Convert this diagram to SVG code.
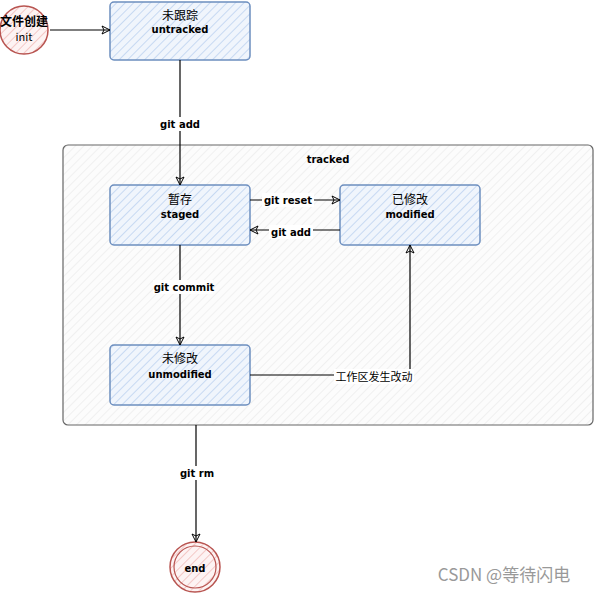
<svg xmlns="http://www.w3.org/2000/svg" width="594" height="593" viewBox="0 0 594 593">
<defs>
<pattern id="hb" width="6" height="6" patternUnits="userSpaceOnUse" patternTransform="rotate(45)">
<rect width="6" height="6" fill="#f0f5fc"/>
<line x1="0" y1="0" x2="0" y2="6" stroke="#c3d6f1" stroke-width="1.8"/>
</pattern>
<pattern id="hr" width="6" height="6" patternUnits="userSpaceOnUse" patternTransform="rotate(45)">
<rect width="6" height="6" fill="#fdf3f3"/>
<line x1="0" y1="0" x2="0" y2="6" stroke="#f2c3c1" stroke-width="1.8"/>
</pattern>
<pattern id="hg" width="6" height="6" patternUnits="userSpaceOnUse" patternTransform="rotate(45)">
<rect width="6" height="6" fill="#fcfcfc"/>
<line x1="0" y1="0" x2="0" y2="6" stroke="#ececec" stroke-width="1.4"/>
</pattern>
<marker id="ar" markerWidth="10" markerHeight="10" refX="9" refY="5" orient="auto" markerUnits="userSpaceOnUse">
<path d="M1,1 L9,5 L1,9 L3,5 Z" fill="none" stroke="#000" stroke-width="1"/>
</marker>
</defs>
<style>
.box{fill:url(#hb);stroke:#6c8ebf;stroke-width:1.5}
.circ{fill:url(#hr);stroke:#b85450;stroke-width:1.5}
.cont{fill:url(#hg);stroke:#666;stroke-width:1.2}
.cn{font-family:"Noto Sans CJK SC","Noto Sans",sans-serif;font-size:12px;fill:#000;text-anchor:middle}
.en{font-family:"DejaVu Sans","Liberation Sans",sans-serif;font-size:10px;font-weight:bold;fill:#000;text-anchor:middle}
.lbl{font-family:"DejaVu Sans","Liberation Sans",sans-serif;font-size:10px;font-weight:bold;fill:#000;text-anchor:middle}
.line{fill:none;stroke:#000;stroke-width:1.2}
.bg{fill:#fff}
</style>
<rect width="594" height="593" fill="#fff"/>
<g id="tracked">
<rect class="cont" x="63" y="145" width="530" height="280" rx="5"/>
<text class="en" x="328" y="163">tracked</text>
</g>
<g id="init">
<circle class="circ" cx="24" cy="30" r="24"/>
<text class="cn" x="24" y="26" style="font-weight:bold">文件创建</text>
<text class="cn" x="24" y="41" style="font-size:11px">init</text>
</g>
<g id="untracked">
<rect class="box" x="110" y="2" width="140" height="58" rx="4"/>
<text class="cn" x="180" y="20">未跟踪</text>
<text class="en" x="180" y="33">untracked</text>
</g>
<g id="staged">
<rect class="box" x="110" y="185" width="140" height="60" rx="4"/>
<text class="cn" x="180" y="204">暂存</text>
<text class="en" x="180" y="218">staged</text>
</g>
<g id="modified">
<rect class="box" x="340" y="185" width="140" height="60" rx="4"/>
<text class="cn" x="410" y="204">已修改</text>
<text class="en" x="410" y="218">modified</text>
</g>
<g id="unmodified">
<rect class="box" x="110" y="345" width="140" height="60" rx="4"/>
<text class="cn" x="180" y="363">未修改</text>
<text class="en" x="180" y="378">unmodified</text>
</g>
<g id="end">
<circle class="circ" cx="195" cy="567" r="25"/>
<circle cx="195" cy="567" r="21" fill="none" stroke="#b85450" stroke-width="1.2"/>
<text class="en" x="195" y="572">end</text>
</g>
<g id="connectors">
<path class="line" d="M50,30 L110,30" marker-end="url(#ar)"/>
<path class="line" d="M180,60 L180,185" marker-end="url(#ar)"/>
<rect class="bg" x="158" y="117" width="44" height="14"/>
<text class="lbl" x="180" y="128">git add</text>
<path class="line" d="M250,200 L340,200" marker-end="url(#ar)"/>
<rect class="bg" x="262" y="193" width="52" height="14"/>
<text class="lbl" x="288" y="204">git reset</text>
<path class="line" d="M340,230 L250,230" marker-end="url(#ar)"/>
<rect class="bg" x="269" y="225" width="44" height="14"/>
<text class="lbl" x="291" y="236">git add</text>
<path class="line" d="M180,245 L180,345" marker-end="url(#ar)"/>
<rect class="bg" x="153" y="280" width="60" height="14"/>
<text class="lbl" x="184" y="291">git commit</text>
<path class="line" d="M250,375 L410,375 L410,245" marker-end="url(#ar)"/>
<rect class="bg" x="334" y="369" width="80" height="15"/>
<text class="cn" x="374" y="381" style="font-size:11px">工作区发生改动</text>
<path class="line" d="M196,425 L196,542" marker-end="url(#ar)"/>
<rect class="bg" x="178" y="466" width="38" height="14"/>
<text class="lbl" x="197" y="477">git rm</text>
</g>
<text x="504" y="581" style="font-family:'Noto Sans CJK SC','Noto Sans',sans-serif;font-size:17px;fill:#999;text-anchor:middle">CSDN @等待闪电</text>
</svg>
